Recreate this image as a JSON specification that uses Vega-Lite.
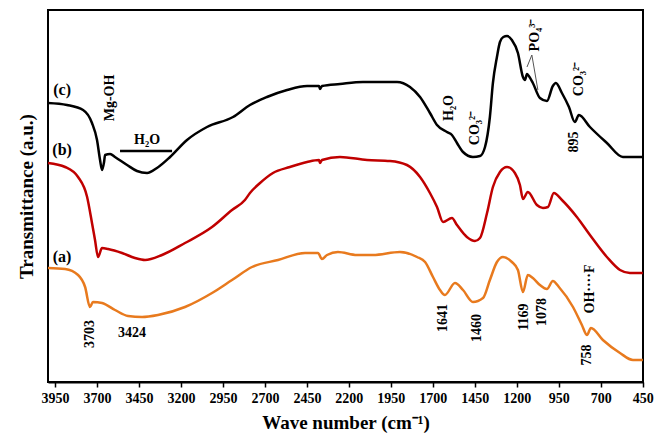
{
  "$schema": "https://vega.github.io/schema/vega-lite/v6.json",
  "width": 595,
  "height": 372,
  "autosize": {"type": "none"},
  "padding": {"left": 48, "top": 10, "right": 25, "bottom": 57},
  "background": "white",
  "config": {
    "view": {"stroke": "black", "strokeWidth": 2},
    "font": "Liberation Serif"
  },
  "datasets": {
    "spectra": [
      {"s": "c", "w": 3992, "T": 279}, {"s": "c", "w": 3879, "T": 277}, {"s": "c", "w": 3783, "T": 272}, {"s": "c", "w": 3730, "T": 259},
      {"s": "c", "w": 3700, "T": 242}, {"s": "c", "w": 3682, "T": 222}, {"s": "c", "w": 3670, "T": 212}, {"s": "c", "w": 3658, "T": 220},
      {"s": "c", "w": 3652, "T": 227}, {"s": "c", "w": 3622, "T": 228}, {"s": "c", "w": 3593, "T": 225}, {"s": "c", "w": 3521, "T": 217},
      {"s": "c", "w": 3462, "T": 211}, {"s": "c", "w": 3402, "T": 209}, {"s": "c", "w": 3343, "T": 214}, {"s": "c", "w": 3265, "T": 225},
      {"s": "c", "w": 3164, "T": 242}, {"s": "c", "w": 3045, "T": 255}, {"s": "c", "w": 2890, "T": 265}, {"s": "c", "w": 2789, "T": 277},
      {"s": "c", "w": 2688, "T": 285}, {"s": "c", "w": 2568, "T": 292}, {"s": "c", "w": 2449, "T": 296}, {"s": "c", "w": 2378, "T": 296},
      {"s": "c", "w": 2372, "T": 293}, {"s": "c", "w": 2360, "T": 296}, {"s": "c", "w": 2253, "T": 298}, {"s": "c", "w": 2116, "T": 300},
      {"s": "c", "w": 1913, "T": 300}, {"s": "c", "w": 1836, "T": 295}, {"s": "c", "w": 1776, "T": 285}, {"s": "c", "w": 1717, "T": 269},
      {"s": "c", "w": 1675, "T": 257}, {"s": "c", "w": 1616, "T": 250}, {"s": "c", "w": 1586, "T": 247}, {"s": "c", "w": 1556, "T": 239},
      {"s": "c", "w": 1520, "T": 230}, {"s": "c", "w": 1461, "T": 225}, {"s": "c", "w": 1419, "T": 226}, {"s": "c", "w": 1389, "T": 235},
      {"s": "c", "w": 1360, "T": 265}, {"s": "c", "w": 1342, "T": 299}, {"s": "c", "w": 1318, "T": 325}, {"s": "c", "w": 1300, "T": 340},
      {"s": "c", "w": 1280, "T": 345}, {"s": "c", "w": 1258, "T": 346}, {"s": "c", "w": 1229, "T": 342}, {"s": "c", "w": 1193, "T": 329}, {"s": "c", "w": 1163, "T": 305},
      {"s": "c", "w": 1151, "T": 302}, {"s": "c", "w": 1139, "T": 308}, {"s": "c", "w": 1128, "T": 306}, {"s": "c", "w": 1104, "T": 299},
      {"s": "c", "w": 1062, "T": 284}, {"s": "c", "w": 1020, "T": 281}, {"s": "c", "w": 985, "T": 296}, {"s": "c", "w": 967, "T": 299},
      {"s": "c", "w": 931, "T": 289}, {"s": "c", "w": 889, "T": 275}, {"s": "c", "w": 854, "T": 260}, {"s": "c", "w": 830, "T": 267},
      {"s": "c", "w": 764, "T": 255}, {"s": "c", "w": 663, "T": 239}, {"s": "c", "w": 568, "T": 225}, {"s": "c", "w": 449, "T": 225},

      {"s": "b", "w": 3992, "T": 219}, {"s": "b", "w": 3890, "T": 215}, {"s": "b", "w": 3813, "T": 205}, {"s": "b", "w": 3759, "T": 185},
      {"s": "b", "w": 3730, "T": 159}, {"s": "b", "w": 3712, "T": 142}, {"s": "b", "w": 3694, "T": 125}, {"s": "b", "w": 3670, "T": 134},
      {"s": "b", "w": 3634, "T": 133}, {"s": "b", "w": 3551, "T": 129}, {"s": "b", "w": 3474, "T": 124}, {"s": "b", "w": 3414, "T": 122},
      {"s": "b", "w": 3313, "T": 127}, {"s": "b", "w": 3176, "T": 139}, {"s": "b", "w": 3015, "T": 155}, {"s": "b", "w": 2896, "T": 172},
      {"s": "b", "w": 2819, "T": 182}, {"s": "b", "w": 2789, "T": 189}, {"s": "b", "w": 2729, "T": 199}, {"s": "b", "w": 2652, "T": 209},
      {"s": "b", "w": 2551, "T": 215}, {"s": "b", "w": 2449, "T": 220}, {"s": "b", "w": 2378, "T": 222}, {"s": "b", "w": 2372, "T": 219},
      {"s": "b", "w": 2360, "T": 222}, {"s": "b", "w": 2253, "T": 225}, {"s": "b", "w": 2092, "T": 222}, {"s": "b", "w": 1955, "T": 221},
      {"s": "b", "w": 1854, "T": 217}, {"s": "b", "w": 1776, "T": 205}, {"s": "b", "w": 1717, "T": 189}, {"s": "b", "w": 1675, "T": 175},
      {"s": "b", "w": 1639, "T": 160}, {"s": "b", "w": 1586, "T": 164}, {"s": "b", "w": 1556, "T": 157}, {"s": "b", "w": 1497, "T": 145},
      {"s": "b", "w": 1449, "T": 141}, {"s": "b", "w": 1419, "T": 144}, {"s": "b", "w": 1377, "T": 169}, {"s": "b", "w": 1342, "T": 195},
      {"s": "b", "w": 1300, "T": 210}, {"s": "b", "w": 1258, "T": 215}, {"s": "b", "w": 1211, "T": 209}, {"s": "b", "w": 1181, "T": 197},
      {"s": "b", "w": 1163, "T": 183}, {"s": "b", "w": 1134, "T": 190}, {"s": "b", "w": 1080, "T": 177}, {"s": "b", "w": 1044, "T": 174},
      {"s": "b", "w": 1014, "T": 175}, {"s": "b", "w": 979, "T": 189}, {"s": "b", "w": 931, "T": 182}, {"s": "b", "w": 842, "T": 165},
      {"s": "b", "w": 764, "T": 147}, {"s": "b", "w": 663, "T": 125}, {"s": "b", "w": 585, "T": 112}, {"s": "b", "w": 526, "T": 109},
      {"s": "b", "w": 449, "T": 109},

      {"s": "a", "w": 3992, "T": 114}, {"s": "a", "w": 3890, "T": 113}, {"s": "a", "w": 3813, "T": 107}, {"s": "a", "w": 3771, "T": 95},
      {"s": "a", "w": 3742, "T": 75}, {"s": "a", "w": 3724, "T": 80}, {"s": "a", "w": 3670, "T": 79}, {"s": "a", "w": 3593, "T": 72},
      {"s": "a", "w": 3515, "T": 66}, {"s": "a", "w": 3432, "T": 65}, {"s": "a", "w": 3337, "T": 67}, {"s": "a", "w": 3176, "T": 75},
      {"s": "a", "w": 3015, "T": 89}, {"s": "a", "w": 2896, "T": 102}, {"s": "a", "w": 2777, "T": 115}, {"s": "a", "w": 2622, "T": 122},
      {"s": "a", "w": 2461, "T": 129}, {"s": "a", "w": 2384, "T": 129}, {"s": "a", "w": 2360, "T": 123}, {"s": "a", "w": 2330, "T": 127},
      {"s": "a", "w": 2265, "T": 130}, {"s": "a", "w": 2152, "T": 127}, {"s": "a", "w": 2056, "T": 127}, {"s": "a", "w": 1896, "T": 130},
      {"s": "a", "w": 1794, "T": 125}, {"s": "a", "w": 1746, "T": 120}, {"s": "a", "w": 1699, "T": 105}, {"s": "a", "w": 1657, "T": 92},
      {"s": "a", "w": 1628, "T": 87}, {"s": "a", "w": 1568, "T": 99}, {"s": "a", "w": 1520, "T": 92}, {"s": "a", "w": 1461, "T": 80},
      {"s": "a", "w": 1401, "T": 84}, {"s": "a", "w": 1360, "T": 102}, {"s": "a", "w": 1318, "T": 120}, {"s": "a", "w": 1282, "T": 125},
      {"s": "a", "w": 1229, "T": 120}, {"s": "a", "w": 1193, "T": 112}, {"s": "a", "w": 1163, "T": 90}, {"s": "a", "w": 1134, "T": 107},
      {"s": "a", "w": 1104, "T": 104}, {"s": "a", "w": 1062, "T": 97}, {"s": "a", "w": 1020, "T": 93}, {"s": "a", "w": 985, "T": 101},
      {"s": "a", "w": 949, "T": 95}, {"s": "a", "w": 865, "T": 75}, {"s": "a", "w": 812, "T": 57}, {"s": "a", "w": 782, "T": 47},
      {"s": "a", "w": 758, "T": 54}, {"s": "a", "w": 687, "T": 42}, {"s": "a", "w": 585, "T": 29}, {"s": "a", "w": 508, "T": 22},
      {"s": "a", "w": 449, "T": 22}
    ],
    "hlabels": [
      {"w": 3908, "T": 292, "label": "(c)"},
      {"w": 3908, "T": 232, "label": "(b)"},
      {"w": 3908, "T": 125, "label": "(a)"}
    ],
    "hnotes": [
      {"w": 3402, "T": 242, "label": "H₂O"},
      {"w": 3492, "T": 49, "label": "3424"}
    ],
    "vnotes": [
      {"w": 3622, "T": 284, "label": "Mg-OH"},
      {"w": 1604, "T": 274, "label": "H₂O"},
      {"w": 1449, "T": 254, "label": "CO₃²⁻"},
      {"w": 1092, "T": 347, "label": "PO₄³⁻"},
      {"w": 830, "T": 303, "label": "CO₃²⁻"},
      {"w": 860, "T": 240, "label": "895"},
      {"w": 3742, "T": 48, "label": "3703"},
      {"w": 1639, "T": 64, "label": "1641"},
      {"w": 1437, "T": 54, "label": "1460"},
      {"w": 1157, "T": 65, "label": "1169"},
      {"w": 1050, "T": 70, "label": "1078"},
      {"w": 764, "T": 93, "label": "OH····F"},
      {"w": 782, "T": 27, "label": "758"}
    ],
    "bar": [{"w": 3563, "w2": 3253, "T": 231}],
    "pointers": [
      {"w": 1110, "T": 327, "w2": 1139, "T2": 315},
      {"w": 1110, "T": 327, "w2": 1074, "T2": 292}
    ]
  },
  "layer": [
    {
      "data": {"name": "spectra"},
      "mark": {"type": "line", "strokeWidth": 2.5, "interpolate": "monotone"},
      "encoding": {
        "x": {
          "field": "w", "type": "quantitative",
          "scale": {"domain": [3992, 448], "nice": false, "zero": false},
          "axis": {
            "values": [3950, 3700, 3450, 3200, 2950, 2700, 2450, 2200, 1950, 1700, 1450, 1200, 950, 700, 450],
            "format": "d",
            "title": "Wave number  (cm⁻¹)",
            "titleFont": "Liberation Serif", "titleFontSize": 19, "titleFontWeight": "bold", "titleColor": "black",
            "titlePadding": 8,
            "labelFont": "Liberation Serif", "labelFontSize": 14, "labelFontWeight": "bold", "labelColor": "black",
            "labelPadding": 4, "labelFlush": false, "labelOverlap": false,
            "ticks": true, "tickSize": 5, "tickColor": "black", "tickWidth": 1.5,
            "domain": true, "domainColor": "black", "domainWidth": 2,
            "grid": false
          }
        },
        "y": {
          "field": "T", "type": "quantitative",
          "scale": {"domain": [0, 372], "nice": false, "zero": false},
          "axis": {
            "title": "Transmittance (a.u.)",
            "titleFont": "Liberation Serif", "titleFontSize": 19, "titleFontWeight": "bold", "titleColor": "black",
            "titlePadding": 12,
            "labels": false, "ticks": false, "domain": false, "grid": false
          }
        },
        "color": {
          "field": "s", "type": "nominal",
          "scale": {"domain": ["a", "b", "c"], "range": ["#E87A1E", "#C00000", "#000000"]},
          "legend": null
        },
        "detail": {"field": "s"}
      }
    },
    {
      "data": {"name": "bar"},
      "mark": {"type": "rule", "strokeWidth": 2.5, "color": "black"},
      "encoding": {
        "x": {"field": "w", "type": "quantitative"},
        "x2": {"field": "w2"},
        "y": {"field": "T", "type": "quantitative"}
      }
    },
    {
      "data": {"name": "pointers"},
      "mark": {"type": "rule", "strokeWidth": 1, "color": "#555555"},
      "encoding": {
        "x": {"field": "w", "type": "quantitative"},
        "x2": {"field": "w2"},
        "y": {"field": "T", "type": "quantitative"},
        "y2": {"field": "T2"}
      }
    },
    {
      "data": {"name": "hlabels"},
      "mark": {"type": "text", "font": "Liberation Serif", "fontSize": 16, "fontWeight": "bold", "color": "black", "align": "center", "baseline": "middle"},
      "encoding": {
        "x": {"field": "w", "type": "quantitative"},
        "y": {"field": "T", "type": "quantitative"},
        "text": {"field": "label"}
      }
    },
    {
      "data": {"name": "hnotes"},
      "mark": {"type": "text", "font": "Liberation Serif", "fontSize": 14, "fontWeight": "bold", "color": "black", "align": "center", "baseline": "middle"},
      "encoding": {
        "x": {"field": "w", "type": "quantitative"},
        "y": {"field": "T", "type": "quantitative"},
        "text": {"field": "label"}
      }
    },
    {
      "data": {"name": "vnotes"},
      "mark": {"type": "text", "font": "Liberation Serif", "fontSize": 14, "fontWeight": "bold", "color": "black", "align": "center", "baseline": "middle", "angle": 270},
      "encoding": {
        "x": {"field": "w", "type": "quantitative"},
        "y": {"field": "T", "type": "quantitative"},
        "text": {"field": "label"}
      }
    }
  ]
}
